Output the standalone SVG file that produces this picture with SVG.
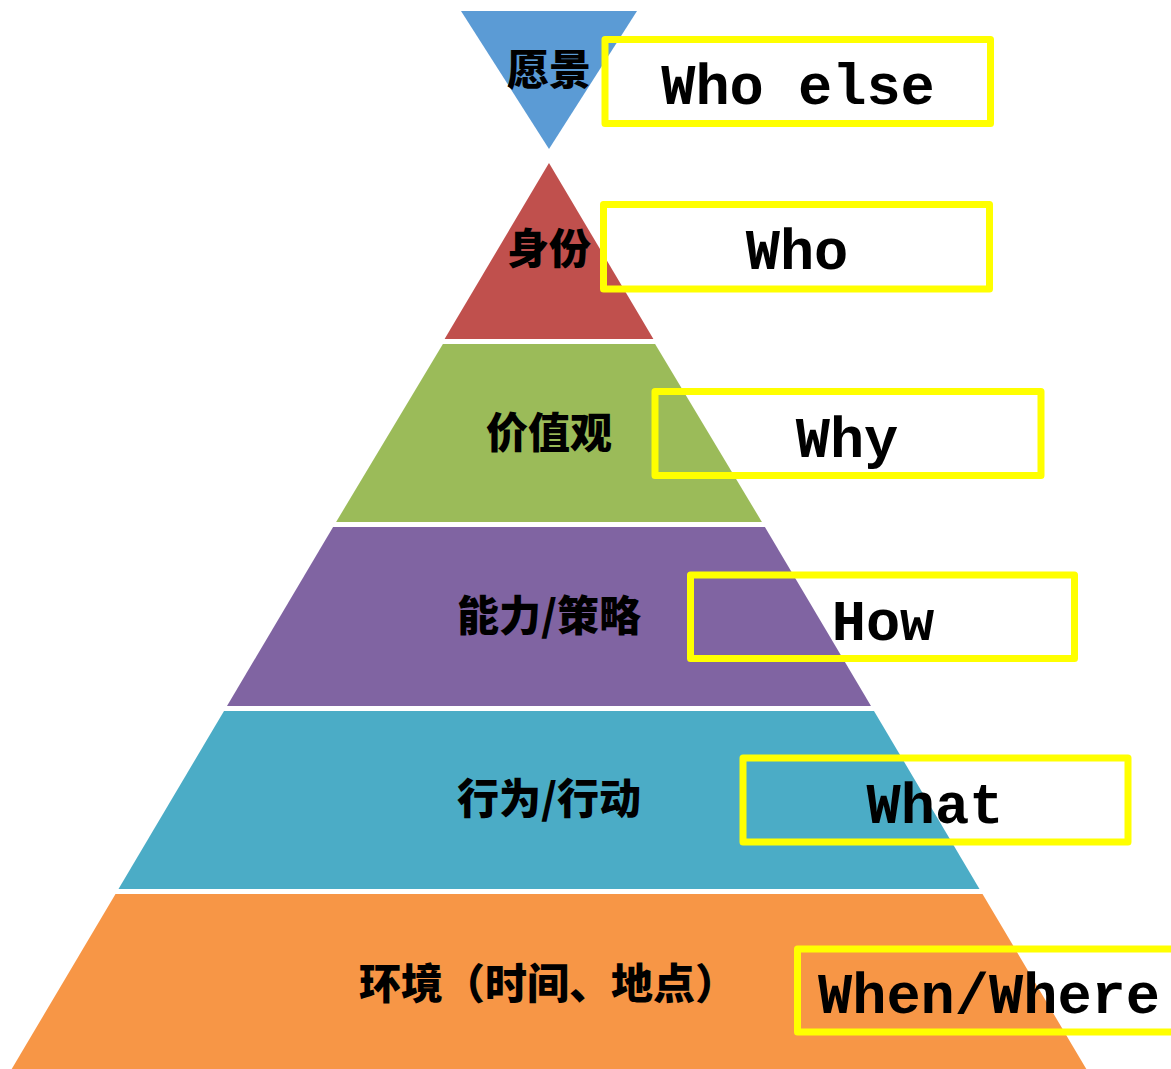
<svg xmlns="http://www.w3.org/2000/svg" width="1171" height="1069" viewBox="0 0 1171 1069">
<style>
.cn{font-family:"Noto Sans CJK SC","Noto Sans CJK JP",sans-serif;font-weight:900;font-size:42px;fill:#000;text-anchor:middle}
.en{font-family:"Liberation Mono","DejaVu Sans Mono",monospace;font-weight:bold;font-size:57px;fill:#000;text-anchor:middle}
.box{fill:none;stroke:#FFFF00;stroke-width:7;stroke-linejoin:round}
</style>
<rect width="1171" height="1069" fill="#FFFFFF"/>
<g id="vision">
<polygon points="461,11 637,11 549,149" fill="#5B9BD5"/>
<text class="cn" x="549" y="85">愿景</text>
</g>
<g id="identity">
<polygon points="549,163 653.4,339 444.6,339" fill="#C0504D"/>
<text class="cn" x="549" y="264">身份</text>
</g>
<g id="values">
<polygon points="442.9,344 655.1,344 761.9,522 336.1,522" fill="#9BBB59"/>
<text class="cn" x="549" y="448">价值观</text>
</g>
<g id="capability">
<polygon points="333.1,527 764.9,527 871,706 227,706" fill="#8064A2"/>
<text class="cn" x="549" y="631">能力/策略</text>
</g>
<g id="behavior">
<polygon points="224,711 874,711 979.5,889 118.5,889" fill="#4BACC6"/>
<text class="cn" x="549" y="814">行为/行动</text>
</g>
<g id="environment">
<polygon points="115.5,894 982.5,894 1086.3,1069 11.7,1069" fill="#F79646"/>
<text class="cn" x="548" y="999">环境（时间、地点）</text>
</g>
<g id="box-who-else">
<rect class="box" x="605" y="39.5" width="385.5" height="84"/>
<text class="en" x="798" y="104">Who else</text>
</g>
<g id="box-who">
<rect class="box" x="603.5" y="204.5" width="386" height="84.5"/>
<text class="en" x="797" y="269">Who</text>
</g>
<g id="box-why">
<rect class="box" x="655" y="391.5" width="386" height="84"/>
<text class="en" x="847" y="457">Why</text>
</g>
<g id="box-how">
<rect class="box" x="690.5" y="575" width="384" height="83.5"/>
<text class="en" x="883" y="640">How</text>
</g>
<g id="box-what">
<rect class="box" x="743" y="758" width="385" height="84"/>
<text class="en" x="935" y="823">What</text>
</g>
<g id="box-when-where">
<rect class="box" x="797.5" y="949" width="400" height="83"/>
<text class="en" x="989" y="1013">When/Where</text>
</g>
</svg>
